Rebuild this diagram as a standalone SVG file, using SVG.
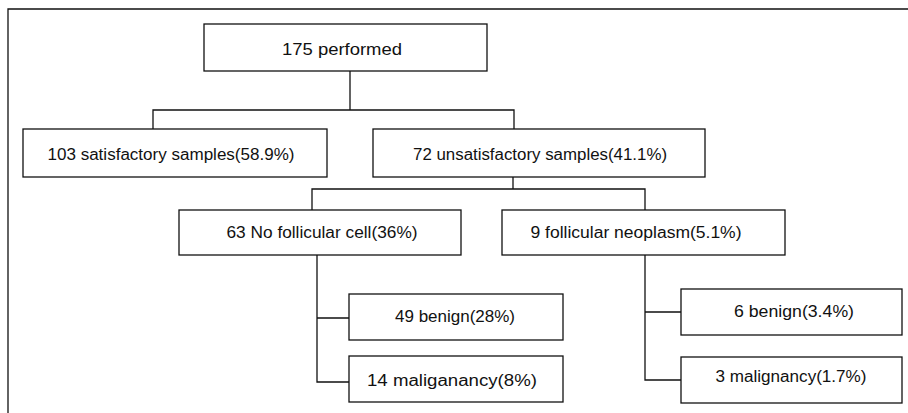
<svg xmlns="http://www.w3.org/2000/svg" width="908" height="413" viewBox="0 0 908 413">
<style>
.box{fill:#fff;stroke:#111;stroke-width:1.3}
.ln{fill:none;stroke:#111;stroke-width:1.3}
text{font-family:"Liberation Sans","DejaVu Sans",sans-serif;font-size:16px;fill:#111;text-anchor:middle}
</style>
<rect width="908" height="413" fill="#fff"/>
<path class="ln" d="M8,413 V9 H908"/>
<g id="connectors">
<path class="ln" d="M350,71 V110 M153,129 V110 H514 V129"/>
<path class="ln" d="M513,177 V189 M312,210 V189 H645 V210"/>
<path class="ln" d="M317,255 V382 H349 M317,318 H349"/>
<path class="ln" d="M645,255 V380 H681 M645,312 H681"/>
</g>
<g id="n1"><rect class="box" x="204" y="24" width="283" height="47"/><text x="342" y="55" textLength="120" lengthAdjust="spacingAndGlyphs">175 performed</text></g>
<g id="n2"><rect class="box" x="23" y="129" width="304" height="48"/><text x="171" y="160" textLength="247" lengthAdjust="spacingAndGlyphs">103 satisfactory samples(58.9%)</text></g>
<g id="n3"><rect class="box" x="373" y="129" width="332" height="48"/><text x="540" y="160" textLength="254" lengthAdjust="spacingAndGlyphs">72 unsatisfactory samples(41.1%)</text></g>
<g id="n4"><rect class="box" x="179" y="210" width="282" height="45"/><text x="322" y="237.5" textLength="191" lengthAdjust="spacingAndGlyphs">63 No follicular cell(36%)</text></g>
<g id="n5"><rect class="box" x="502" y="210" width="283" height="45"/><text x="636" y="237.5" textLength="211" lengthAdjust="spacingAndGlyphs">9 follicular neoplasm(5.1%)</text></g>
<g id="n6"><rect class="box" x="349" y="294" width="214" height="46"/><text x="455" y="322" textLength="120" lengthAdjust="spacingAndGlyphs">49 benign(28%)</text></g>
<g id="n7"><rect class="box" x="349" y="356" width="214" height="46"/><text x="452" y="386" textLength="170" lengthAdjust="spacingAndGlyphs">14 maliganancy(8%)</text></g>
<g id="n8"><rect class="box" x="681" y="289" width="221" height="46"/><text x="794" y="317" textLength="120" lengthAdjust="spacingAndGlyphs">6 benign(3.4%)</text></g>
<g id="n9"><rect class="box" x="681" y="357" width="221" height="46"/><text x="791" y="382" textLength="151" lengthAdjust="spacingAndGlyphs">3 malignancy(1.7%)</text></g>
</svg>
